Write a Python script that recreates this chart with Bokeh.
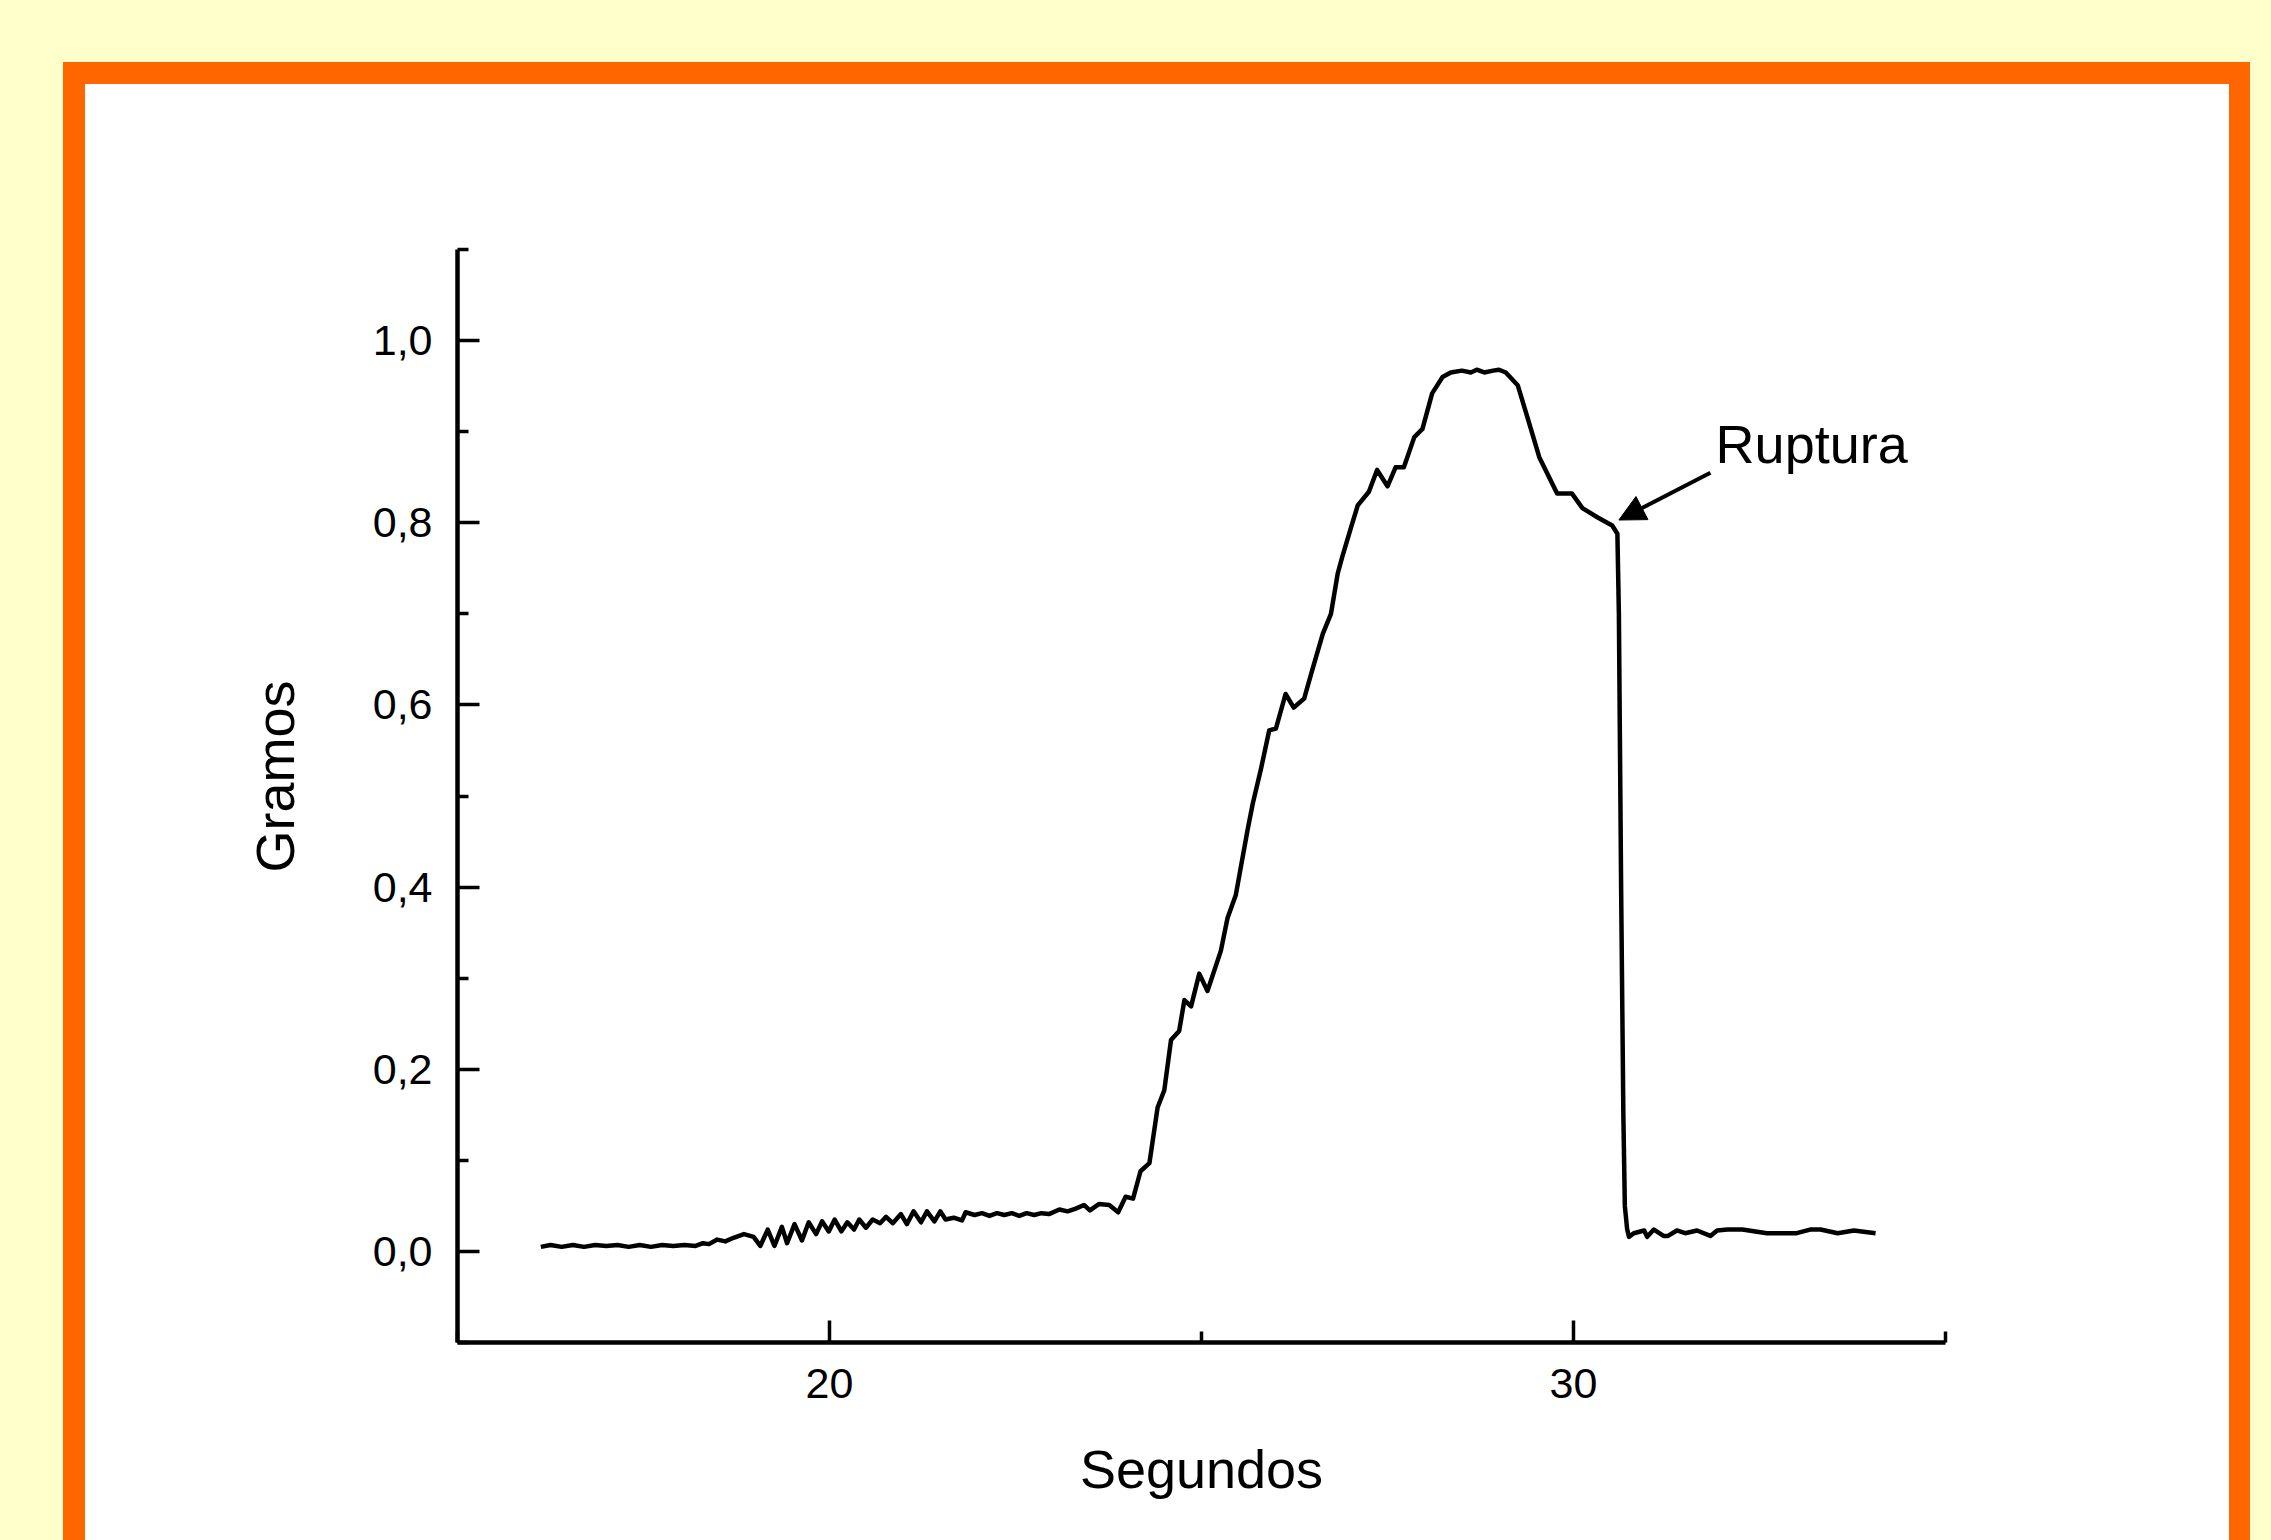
from bokeh.plotting import figure
from bokeh.models import (Range1d, FixedTicker, CustomJSTickFormatter, Title,
                          Arrow, NormalHead, Label, GlobalInlineStyleSheet)
from bokeh.embed import file_html
from bokeh.resources import INLINE

# ---------------- data ----------------
time_s = [16.12, 16.25, 16.40, 16.55, 16.70, 16.85, 17.00, 17.15, 17.30, 17.45,
          17.60, 17.75, 17.90, 18.05, 18.20, 18.30, 18.38, 18.49, 18.60, 18.71,
          18.85, 18.98, 19.07, 19.17, 19.26, 19.36, 19.43, 19.53, 19.63, 19.72,
          19.82, 19.90, 19.99, 20.07, 20.16, 20.24, 20.33, 20.40, 20.49, 20.58,
          20.68, 20.76, 20.85, 20.96, 21.04, 21.13, 21.23, 21.31, 21.41, 21.49,
          21.56, 21.67, 21.78, 21.83, 21.95, 22.05, 22.15, 22.25, 22.35, 22.45,
          22.55, 22.65, 22.75, 22.85, 22.95, 23.09, 23.20, 23.31, 23.42, 23.50,
          23.62, 23.76, 23.88, 23.98, 24.08, 24.18, 24.30, 24.41, 24.50, 24.59,
          24.70, 24.77, 24.86, 24.97, 25.08, 25.26, 25.35, 25.46, 25.62, 25.69,
          25.80, 25.91, 26.00, 26.13, 26.24, 26.38, 26.47, 26.63, 26.74, 26.83,
          26.89, 27.01, 27.10, 27.25, 27.36, 27.50, 27.61, 27.72, 27.86, 27.97,
          28.10, 28.24, 28.35, 28.50, 28.62, 28.70, 28.80, 28.92, 29.00, 29.09,
          29.25, 29.38, 29.54, 29.78, 29.98, 30.12, 30.32, 30.52, 30.59, 30.61,
          30.64, 30.67, 30.69, 30.72, 30.745, 30.81, 30.95, 30.99, 31.08, 31.21,
          31.27, 31.39, 31.50, 31.66, 31.84, 31.93, 32.07, 32.27, 32.60, 33.00,
          33.18, 33.32, 33.55, 33.77, 34.06]
grams = [0.005, 0.007, 0.005, 0.007, 0.005, 0.007, 0.006, 0.007, 0.005, 0.007,
         0.005, 0.007, 0.006, 0.007, 0.006, 0.009, 0.008, 0.013, 0.011, 0.015,
         0.019, 0.016, 0.006, 0.024, 0.006, 0.027, 0.009, 0.030, 0.012, 0.032,
         0.019, 0.033, 0.022, 0.035, 0.022, 0.032, 0.024, 0.035, 0.026, 0.035,
         0.031, 0.038, 0.031, 0.041, 0.030, 0.044, 0.032, 0.044, 0.033, 0.044,
         0.035, 0.037, 0.034, 0.043, 0.040, 0.042, 0.039, 0.042, 0.040, 0.042,
         0.039, 0.042, 0.040, 0.042, 0.041, 0.046, 0.044, 0.047, 0.051, 0.045,
         0.052, 0.051, 0.043, 0.060, 0.058, 0.088, 0.097, 0.158, 0.177, 0.232,
         0.242, 0.276, 0.269, 0.305, 0.286, 0.330, 0.366, 0.391, 0.463, 0.492,
         0.530, 0.572, 0.574, 0.612, 0.597, 0.607, 0.633, 0.678, 0.700, 0.744,
         0.762, 0.795, 0.819, 0.834, 0.858, 0.840, 0.861, 0.861, 0.894, 0.903,
         0.942, 0.960, 0.965, 0.967, 0.965, 0.968, 0.965, 0.967, 0.968, 0.965,
         0.951, 0.916, 0.872, 0.832, 0.832, 0.816, 0.806, 0.797, 0.788, 0.700,
         0.400, 0.150, 0.050, 0.025, 0.016, 0.020, 0.023, 0.016, 0.024, 0.017,
         0.017, 0.023, 0.020, 0.023, 0.017, 0.023, 0.024, 0.024, 0.020, 0.020,
         0.024, 0.024, 0.020, 0.023, 0.020]

x_major = [20, 30]
x_minor = [15, 25, 35]
y_major = [0.0, 0.2, 0.4, 0.6, 0.8, 1.0]
y_minor = [-0.1, 0.1, 0.3, 0.5, 0.7, 0.9, 1.1]

x_title = "Segundos"
y_title = "Gramos"
note_text = "Ruptura"
note_xy = (31.91, 0.887)
arrow_tail = (31.84, 0.855)
arrow_tip = (30.61, 0.803)

FONT = "Liberation Sans"
W, H = 2271, 1540

# page background: yellow page, orange frame, white panel
page_css = (
    "html { background:"
    " linear-gradient(#ffffff, #ffffff) 85px 84px / 2144px 1456px no-repeat,"
    " linear-gradient(#FF6600, #FF6600) 63px 62px / 2187px 1478px no-repeat,"
    " #FFFFCC; overflow: hidden; }"
    " body { background: transparent; margin: 0; overflow: hidden; }"
)

p = figure(width=W, height=H, output_backend="svg", toolbar_location=None,
           x_range=Range1d(15, 35), y_range=Range1d(-0.1, 1.1),
           min_border_left=457, min_border_right=326,
           min_border_top=249, min_border_bottom=198,
           background_fill_color=None, border_fill_color=None,
           outline_line_color=None)
p.stylesheets = [GlobalInlineStyleSheet(css=page_css)]
p.grid.visible = False

p.line(time_s, grams, line_color="black", line_width=4.5, line_join="round")

for ax in (p.xaxis[0], p.yaxis[0]):
    ax.axis_line_width = 4.5
    ax.axis_line_color = "black"
    ax.major_tick_line_width = 3.5
    ax.minor_tick_line_width = 3.5
    ax.major_tick_in = 22
    ax.major_tick_out = 0
    ax.minor_tick_in = 11
    ax.minor_tick_out = 0
    ax.major_label_text_font = FONT
    ax.major_label_text_font_size = "43px"
    ax.major_label_text_color = "black"
    ax.axis_label_text_font = FONT
    ax.axis_label_text_font_size = "54px"
    ax.axis_label_text_font_style = "normal"
    ax.axis_label_text_color = "black"

p.xaxis.ticker = FixedTicker(ticks=x_major, minor_ticks=x_minor)
p.yaxis.ticker = FixedTicker(ticks=y_major, minor_ticks=y_minor)
p.yaxis.formatter = CustomJSTickFormatter(code="return tick.toFixed(1).replace('.', ',');")
p.xaxis.axis_label = x_title
p.xaxis.major_label_standoff = 26
p.yaxis.major_label_standoff = 25
p.xaxis.axis_label_standoff = 38

# y-axis title as a side title, placed where the original has it
p.add_layout(Title(text=y_title, align="left", offset=470, standoff=130,
                   text_font=FONT, text_font_size="54px", text_font_style="normal",
                   text_color="black"), "left")

p.add_layout(Arrow(end=NormalHead(size=26, fill_color="black", line_color="black"),
                   x_start=arrow_tail[0], y_start=arrow_tail[1],
                   x_end=arrow_tip[0], y_end=arrow_tip[1],
                   line_color="black", line_width=4))
p.add_layout(Label(x=note_xy[0], y=note_xy[1], text=note_text,
                   text_font=FONT, text_font_size="54px", text_color="black",
                   text_baseline="alphabetic", text_align="left"))

open("out.html", "w").write(file_html(p, INLINE))
